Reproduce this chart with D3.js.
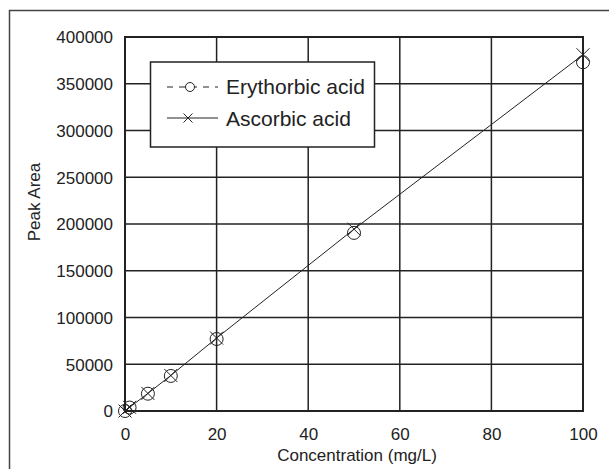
<html>
<head>
  <script src="https://d3js.org/d3.v7.min.js"></script>
  <style>
    body { margin: 0; background: #fff; }
  </style>
</head>
<body>
<script>

// data
let concentrations = [0, 1, 5, 10, 20, 50, 100];
let erythorbic = [0, 3700, 18500, 37500, 77000, 190500, 373000];
let ascorbic = [0, 3900, 18800, 38000, 78000, 194500, 381000];
let xTicks = [0, 20, 40, 60, 80, 100];
let yTicks = [0, 50000, 100000, 150000, 200000, 250000, 300000, 350000, 400000];
let seriesNames = ["Erythorbic acid", "Ascorbic acid"];

let canvasW = 609;
let canvasH = 469;
let ink = "#222";
let font = "Liberation Sans, Arial, sans-serif";

let svg = d3.select("body").append("svg")
  .attr("width", canvasW)
  .attr("height", canvasH);

// outer frame (only left and top show)
svg.append("path")
  .attr("d", "M9.5," + canvasH + " L9.5,10.5 L" + canvasW + ",10.5")
  .attr("fill", "none")
  .attr("stroke", "#444")
  .attr("stroke-width", 1.5);

let pLeft = 125, pRight = 583, pTop = 37, pBottom = 411;

let x = d3.scaleLinear().domain([0, 100]).range([pLeft, pRight]);
let y = d3.scaleLinear().domain([0, 400000]).range([pBottom, pTop]);

// grid
svg.append("g").selectAll("line")
  .data(xTicks)
  .enter()
  .append("line")
  .attr("x1", d => x(d)).attr("x2", d => x(d))
  .attr("y1", pTop).attr("y2", pBottom)
  .attr("stroke", ink)
  .attr("stroke-width", 1.5);

svg.append("g").selectAll("line")
  .data(yTicks)
  .enter()
  .append("line")
  .attr("x1", pLeft).attr("x2", pRight)
  .attr("y1", d => y(d)).attr("y2", d => y(d))
  .attr("stroke", ink)
  .attr("stroke-width", 1.5);

svg.append("rect")
  .attr("x", pLeft).attr("y", pTop)
  .attr("width", pRight - pLeft).attr("height", pBottom - pTop)
  .attr("fill", "none")
  .attr("stroke", ink)
  .attr("stroke-width", 2);

// axes labels via d3 axes, lines hidden
let xAxis = svg.append("g")
  .attr("transform", "translate(0," + pBottom + ")")
  .call(d3.axisBottom(x).tickValues(xTicks).tickSize(0).tickPadding(17));
let yAxis = svg.append("g")
  .attr("transform", "translate(" + pLeft + ",0)")
  .call(d3.axisLeft(y).tickValues(yTicks).tickSize(0).tickPadding(12).tickFormat(d3.format("d")));

[xAxis, yAxis].forEach(a => {
  a.select(".domain").remove();
  a.selectAll("text")
    .attr("font-family", font)
    .attr("font-size", "17px")
    .attr("fill", ink);
});
yAxis.selectAll("text").attr("dy", "0.35em");

svg.append("text")
  .attr("x", (pLeft + pRight) / 2 + 3)
  .attr("y", 461)
  .attr("text-anchor", "middle")
  .attr("font-family", font)
  .attr("font-size", "17px")
  .attr("fill", ink)
  .text("Concentration (mg/L)");

svg.append("text")
  .attr("transform", "translate(40,202) rotate(-90)")
  .attr("text-anchor", "middle")
  .attr("font-family", font)
  .attr("font-size", "17px")
  .attr("fill", ink)
  .text("Peak Area");

// only the ascorbic line shows in the plot; the dashed one sits under it
let pts1 = concentrations.map((c, i) => [c, erythorbic[i]]);
let pts2 = concentrations.map((c, i) => [c, ascorbic[i]]);
let line = d3.line().x(d => x(d[0])).y(d => y(d[1]));

svg.append("path")
  .attr("d", line(pts2))
  .attr("fill", "none")
  .attr("stroke", ink)
  .attr("stroke-width", 1);

function cross(g, cx, cy, s) {
  g.append("path")
    .attr("d", "M" + (cx - s) + "," + (cy - s) + " L" + (cx + s) + "," + (cy + s) +
      " M" + (cx - s) + "," + (cy + s) + " L" + (cx + s) + "," + (cy - s))
    .attr("stroke", ink)
    .attr("stroke-width", 1)
    .attr("fill", "none");
}

svg.append("g").selectAll("circle")
  .data(pts1)
  .enter()
  .append("circle")
  .attr("cx", d => x(d[0]))
  .attr("cy", d => y(d[1]))
  .attr("r", 6.5)
  .attr("fill", "none")
  .attr("stroke", ink)
  .attr("stroke-width", 1);

let crosses = svg.append("g");
pts2.forEach(d => cross(crosses, x(d[0]), y(d[1]), 6.5));

// legend
let lg = svg.append("g");
lg.append("rect")
  .attr("x", 150.5).attr("y", 62)
  .attr("width", 224).attr("height", 85)
  .attr("fill", "#fff")
  .attr("stroke", ink)
  .attr("stroke-width", 1.5);

lg.append("line")
  .attr("x1", 167).attr("x2", 218)
  .attr("y1", 87).attr("y2", 87)
  .attr("stroke", ink)
  .attr("stroke-width", 1)
  .attr("stroke-dasharray", "6,6");
lg.append("circle")
  .attr("cx", 190).attr("cy", 87).attr("r", 4.5)
  .attr("fill", "#fff")
  .attr("stroke", ink)
  .attr("stroke-width", 1);

lg.append("line")
  .attr("x1", 167).attr("x2", 218)
  .attr("y1", 118).attr("y2", 118)
  .attr("stroke", ink)
  .attr("stroke-width", 1);
cross(lg, 188, 118, 4.5);

lg.selectAll("text")
  .data(seriesNames)
  .enter()
  .append("text")
  .attr("x", 226)
  .attr("y", (d, i) => 94 + i * 32)
  .attr("font-family", font)
  .attr("font-size", "21px")
  .attr("fill", ink)
  .text(d => d);

</script>
</body>
</html>
